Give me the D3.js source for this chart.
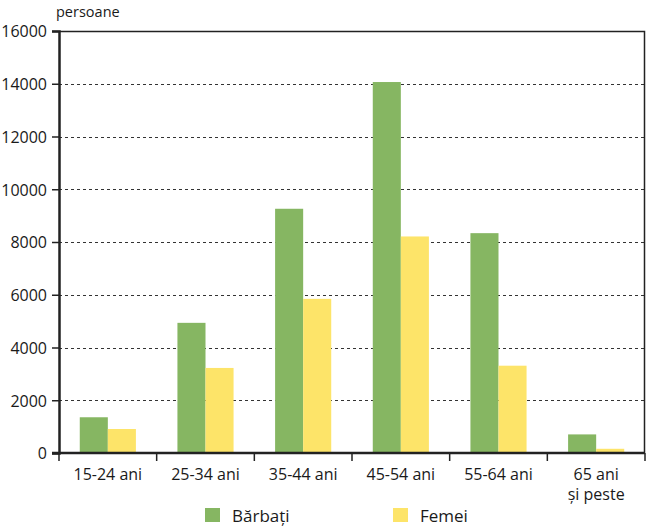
<!DOCTYPE html>
<html>
<head>
<meta charset="utf-8">
<script src="https://cdn.jsdelivr.net/npm/d3@7"></script>
<style>
  body { margin: 0; background: #fff; }
  text { font-family: "Open Sans", "Noto Sans", sans-serif; fill: #1a1a1a; }
</style>
</head>
<body>
<div id="chart"></div>
<script>
var categories = ["15-24 ani", "25-34 ani", "35-44 ani", "45-54 ani", "55-64 ani", "65 ani\nși peste"];
var seriesNames = ["Bărbați", "Femei"];
var barbati = [1355, 4935, 9260, 14065, 8335, 705];
var femei = [910, 3225, 5845, 8210, 3310, 160];
var yTicks = [0, 2000, 4000, 6000, 8000, 10000, 12000, 14000, 16000];
var colors = ["#86b662", "#fde469"];

var W = 647, H = 528;
var margin = {top: 31, right: 2, bottom: 75, left: 59};

var svg = d3.select("#chart").append("svg")
  .attr("width", W)
  .attr("height", H);

var x = d3.scaleBand()
  .domain(categories)
  .range([margin.left, W - margin.right])
  .paddingInner(0)
  .paddingOuter(0);

var inner = d3.scaleBand()
  .domain(seriesNames)
  .range([0, x.bandwidth()])
  .paddingOuter(0.74)
  .paddingInner(0);

var y = d3.scaleLinear()
  .domain([0, 16000])
  .range([H - margin.bottom, margin.top]);

// dashed grid
svg.append("g")
  .selectAll("line")
  .data(yTicks.filter(function(d){ return d > 0 && d < 16000; }))
  .enter()
  .append("line")
  .attr("x1", margin.left)
  .attr("x2", W - margin.right)
  .attr("y1", function(d){ return Math.round(y(d)) + 0.5; })
  .attr("y2", function(d){ return Math.round(y(d)) + 0.5; })
  .attr("stroke", "#333")
  .attr("stroke-width", 1)
  .attr("stroke-dasharray", "3,3");

// bars
var data = categories.map(function(c, i){
  return {cat: c, vals: [{s: seriesNames[0], v: barbati[i]}, {s: seriesNames[1], v: femei[i]}]};
});

svg.append("g")
  .selectAll("g")
  .data(data)
  .enter()
  .append("g")
  .attr("transform", function(d){ return "translate(" + x(d.cat) + ",0)"; })
  .selectAll("rect")
  .data(function(d){ return d.vals; })
  .enter()
  .append("rect")
  .attr("x", function(d){ return inner(d.s); })
  .attr("width", inner.bandwidth())
  .attr("y", function(d){ return y(d.v); })
  .attr("height", function(d){ return y(0) - y(d.v); })
  .attr("fill", function(d, i){ return colors[i]; });

// frame: top and right
svg.append("path")
  .attr("d", "M" + margin.left + "," + (margin.top + 0.5) + "H" + (W - margin.right - 0.5) + "V" + y(0))
  .attr("fill", "none")
  .attr("stroke", "#222")
  .attr("stroke-width", 1.5);

// y axis
var yAxis = svg.append("g")
  .attr("transform", "translate(" + margin.left + ",0)")
  .call(d3.axisLeft(y).tickValues(yTicks).tickSize(7).tickFormat(d3.format("d")));
yAxis.select(".domain").attr("stroke", "#222").attr("stroke-width", 2.5);
yAxis.selectAll(".tick line").attr("stroke", "#222").attr("stroke-width", 1.5);
yAxis.selectAll(".tick text").attr("x", -12).attr("dy", "0.36em")
  .style("font-size", "16px").attr("fill", "#1a1a1a");

// x axis
var xAxis = svg.append("g")
  .attr("transform", "translate(0," + y(0) + ")");
xAxis.append("line")
  .attr("x1", margin.left - 7)
  .attr("x2", W - margin.right)
  .attr("stroke", "#222")
  .attr("stroke-width", 2.5);
var bounds = categories.map(function(c){ return x(c); }).concat([x(categories[categories.length - 1]) + x.bandwidth()]);
xAxis.selectAll(".xt")
  .data(bounds)
  .enter()
  .append("line")
  .attr("x1", function(d){ return d; })
  .attr("x2", function(d){ return d; })
  .attr("y1", 0)
  .attr("y2", 8)
  .attr("stroke", "#222")
  .attr("stroke-width", 1.5);

var labels = xAxis.selectAll(".xl")
  .data(categories)
  .enter()
  .append("text")
  .attr("text-anchor", "middle")
  .attr("x", function(d){ return x(d) + x.bandwidth() / 2; })
  .attr("y", 27)
  .style("font-size", "16px");
labels.each(function(d){
  var t = d3.select(this);
  d.split("\n").forEach(function(line, i){
    t.append("tspan")
      .attr("x", x(d) + x.bandwidth() / 2)
      .attr("dy", i === 0 ? 0 : 20)
      .text(line);
  });
});

// y axis title
svg.append("text")
  .attr("x", 56)
  .attr("y", 17)
  .style("font-size", "14.5px")
  .text("persoane");

// legend
var legendX = [205, 393];
var legend = svg.append("g")
  .selectAll("g")
  .data(seriesNames)
  .enter()
  .append("g")
  .attr("transform", function(d, i){ return "translate(" + legendX[i] + ",508)"; });
legend.append("rect")
  .attr("width", 15)
  .attr("height", 14)
  .attr("fill", function(d, i){ return colors[i]; });
legend.append("text")
  .attr("x", 27)
  .attr("y", 14)
  .style("font-size", "17px")
  .text(function(d){ return d; });
</script>
</body>
</html>
